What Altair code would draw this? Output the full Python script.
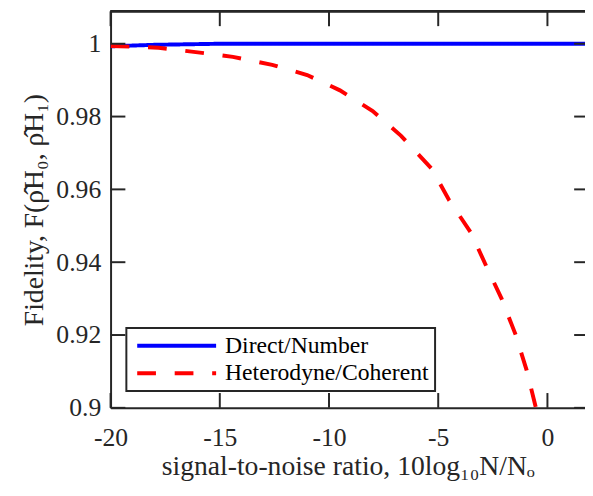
import altair as alt
import pandas as pd

# ---- data ----
series = ["Direct/Number", "Heterodyne/Coherent"]

blue_x = [-20, -19, -18, -17, -16, -15, -12, -10, -5, 0, 1.72]
blue_y = [0.9993, 0.9995, 0.9997, 0.9998, 0.9999, 1.0, 1.0, 1.0, 1.0, 1.0, 1.0]

red_x = [-20.0, -17.8, -16.1, -14.4, -12.6, -11.0, -9.5, -8.0, -6.7, -5.3, -4.5,
         -3.5, -2.8, -2.1, -1.45, -0.95, -0.54, -0.3]
red_y = [0.9994, 0.9989, 0.9977, 0.9964, 0.9942, 0.9914, 0.9872, 0.9815, 0.9747,
         0.9657, 0.9570, 0.9481, 0.9389, 0.9300, 0.9200, 0.9103, 0.9003, 0.8940]

x_ticks = [-20, -15, -10, -5, 0]
y_ticks = [0.9, 0.92, 0.94, 0.96, 0.98, 1.0]

# ---- layout ----
W, H = 481, 402
X_DOMAIN = [-20, 1.72]
Y_DOMAIN = [0.9, 1.0089]
AX = "#262626"
FONT = "Liberation Serif"
TICK = 15

lines_df = pd.concat([
    pd.DataFrame({"x": blue_x, "y": blue_y, "series": series[0]}),
    pd.DataFrame({"x": red_x, "y": red_y, "series": series[1]}),
])
xt_df = pd.DataFrame({"x": x_ticks})
yt_df = pd.DataFrame({"y": y_ticks})

xs = alt.Scale(domain=X_DOMAIN, nice=False, zero=False)
ys = alt.Scale(domain=Y_DOMAIN, nice=False, zero=False)

x_axis = alt.Axis(values=x_ticks, labelExpr="datum.value + ''",
                  title="signal-to-noise ratio, 10log₁₀N/Nₒ",
                  labelFont=FONT, titleFont=FONT, labelFlush=False,
                  labelPadding=17, titlePadding=3)
y_axis = alt.Axis(values=y_ticks, labelExpr="datum.value + ''",
                  title="Fidelity, F(ρ̂H₀, ρ̂H₁)",
                  labelFont=FONT, titleFont=FONT, labelFlush=False,
                  labelPadding=10, titlePadding=8)


def xe():
    return alt.X("x:Q", scale=xs, axis=x_axis)


def ye():
    return alt.Y("y:Q", scale=ys, axis=y_axis)


lines = alt.Chart(lines_df).mark_line(strokeWidth=4, clip=True).encode(
    x=xe(), y=ye(),
    color=alt.Color("series:N",
                    scale=alt.Scale(domain=series, range=["#0000ff", "#ff0000"]),
                    legend=alt.Legend(title=None, labelFont=FONT)),
    strokeDash=alt.StrokeDash("series:N",
                              scale=alt.Scale(domain=series, range=[[1, 0], [19, 19]]),
                              legend=alt.Legend(title=None, labelFont=FONT)),
)

bottom_ticks = alt.Chart(xt_df).mark_rule(color=AX, strokeWidth=2).encode(
    x=xe(), y=alt.value(H), y2=alt.value(H - TICK))
top_ticks = alt.Chart(xt_df).mark_rule(color=AX, strokeWidth=2).encode(
    x=xe(), y=alt.value(0), y2=alt.value(TICK))
left_ticks = alt.Chart(yt_df).mark_rule(color=AX, strokeWidth=2).encode(
    y=ye(), x=alt.value(0), x2=alt.value(TICK))
right_ticks = alt.Chart(yt_df).mark_rule(color=AX, strokeWidth=2).encode(
    y=ye(), x=alt.value(W - 11), x2=alt.value(W))
top_frame = alt.Chart(xt_df).mark_rule(color=AX, strokeWidth=2).encode(
    x=alt.value(0), x2=alt.value(W), y=alt.value(0))

chart = alt.layer(
    lines, bottom_ticks, top_ticks, left_ticks, right_ticks, top_frame
).properties(
    width=W, height=H,
    autosize=alt.AutoSizeParams(type="none"),
    padding={"left": 104, "top": 0, "right": 0, "bottom": 86},
).configure(
    font=FONT
).configure_view(
    stroke=None
).configure_axis(
    grid=False, ticks=False, tickSize=0,
    domainColor=AX, domainWidth=2,
    labelFont=FONT, labelFontSize=26, labelColor=AX,
    titleFont=FONT, titleFontSize=28, titleFontWeight="normal", titleColor=AX,
).configure_legend(
    orient="none", legendX=16, legendY=321,
    strokeColor=AX, strokeWidth=2, fillColor="white",
    padding=6, rowPadding=4, labelOffset=70,
    labelFont=FONT, labelFontSize=24, labelColor="#000000",
    symbolType="M-0.7,0H7.3", symbolSize=400, symbolStrokeWidth=4,
    labelLimit=400,
)

chart.save("out.html", embed_options={"renderer": "svg", "actions": False})
